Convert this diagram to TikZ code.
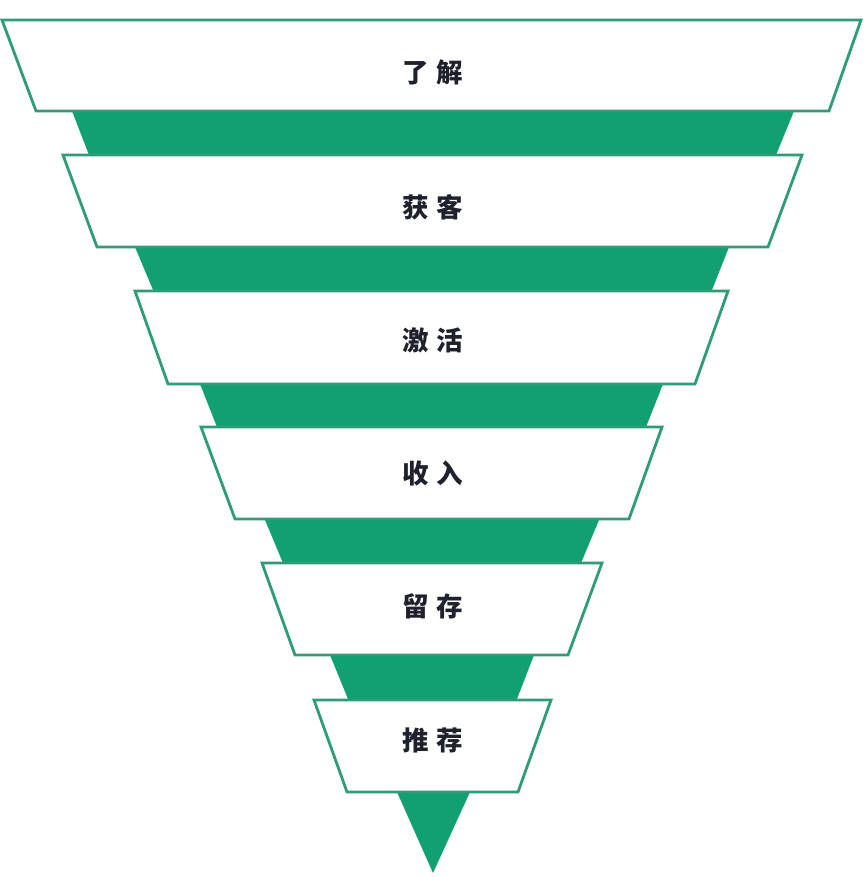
\documentclass[tikz,border=0pt]{standalone}
\usepackage{fontspec}
\usepackage{tikz}
\newfontfamily\cjk{Noto Sans CJK SC}
\definecolor{funnelgreen}{HTML}{11A072}
\definecolor{edgegreen}{HTML}{2E9C76}
\definecolor{labelink}{HTML}{1F222C}

\tikzset{
  band/.style={fill=white, draw=edgegreen, line width=2.8pt, line join=miter},
  stage/.style={font=\cjk\bfseries\fontsize{26.5}{30}\selectfont, text=labelink, inner sep=0pt}
}

\begin{document}
\begin{tikzpicture}[x=1pt, y=-1pt]
    \useasboundingbox (0,0) rectangle (866,877);

    % green funnel behind the bands
    \fill [funnelgreen] (72,111) -- (89,155) -- (135,247) -- (153,290) -- (200,384) -- (217,427)
        -- (265,520) -- (283,563) -- (330,655) -- (348,699) -- (397,792) -- (433,873)
        -- (470,792) -- (517,699) -- (534,655) -- (581,563) -- (599,520) -- (646,427)
        -- (663,384) -- (712,290) -- (729,247) -- (776,155) -- (794,111) -- cycle;

    % bands
    \draw [band] (2,20) -- (861,20) -- (829,111) -- (36,111) -- cycle;
    \draw [band] (63,155) -- (802,155) -- (768,247) -- (97,247) -- cycle;
    \draw [band] (135,291) -- (728,291) -- (695,384) -- (168,384) -- cycle;
    \draw [band] (201,427) -- (662,427) -- (629,519) -- (235,519) -- cycle;
    \draw [band] (262,563) -- (602,563) -- (568,655) -- (295,655) -- cycle;
    \draw [band] (314,700) -- (551,700) -- (518,792) -- (347,792) -- cycle;

    \node [stage] (know) at (433,72) {了\hspace{0.3em}解};
    \node [stage] (acquire) at (433,207) {获\hspace{0.3em}客};
    \node [stage] (activate) at (433,340) {激\hspace{0.3em}活};
    \node [stage] (revenue) at (433,473) {收\hspace{0.3em}入};
    \node [stage] (retain) at (433,606) {留\hspace{0.3em}存};
    \node [stage] (refer) at (433,740) {推\hspace{0.3em}荐};
\end{tikzpicture}
\end{document}
